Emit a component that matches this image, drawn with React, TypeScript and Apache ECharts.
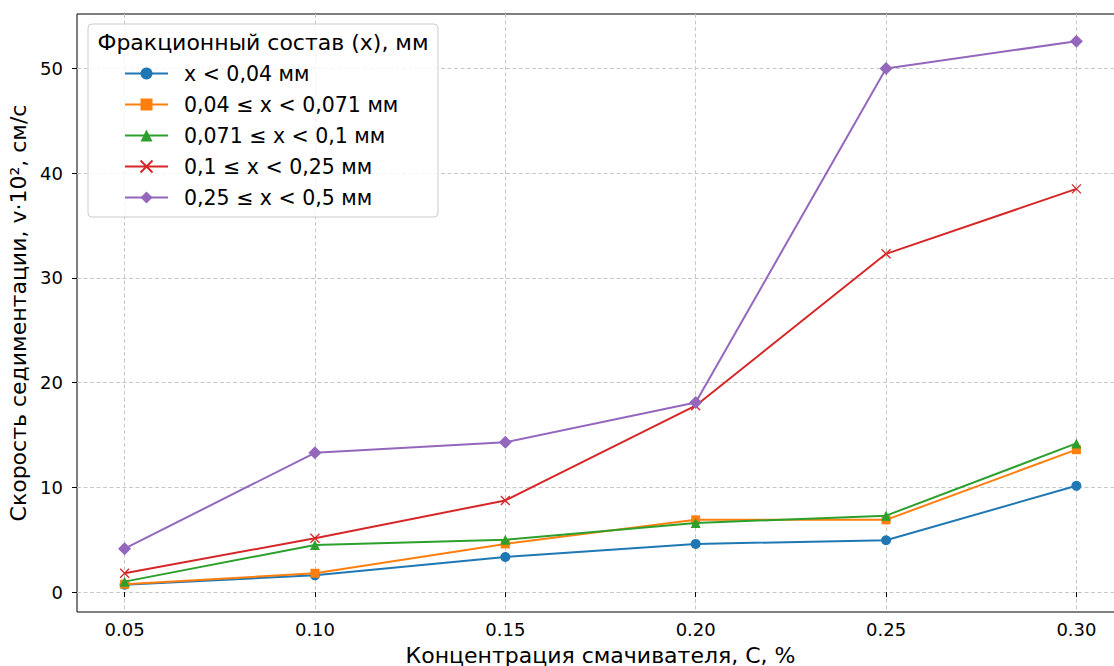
import React, { useEffect, useRef } from "react";
import * as echarts from "echarts";

const concentrations = [0.05, 0.1, 0.15, 0.2, 0.25, 0.3];
const xTicks = [0.05, 0.1, 0.15, 0.2, 0.25, 0.3];
const yTicks = [0, 10, 20, 30, 40, 50];

const seriesNames = [
  "x < 0,04 мм",
  "0,04 ≤ x < 0,071 мм",
  "0,071 ≤ x < 0,1 мм",
  "0,1 ≤ x < 0,25 мм",
  "0,25 ≤ x < 0,5 мм",
];
const fraction1 = [0.7, 1.6, 3.35, 4.6, 4.95, 10.15];
const fraction2 = [0.75, 1.8, 4.6, 6.9, 6.9, 13.6];
const fraction3 = [1.0, 4.5, 5.0, 6.6, 7.3, 14.2];
const fraction4 = [1.8, 5.15, 8.75, 17.8, 32.3, 38.5];
const fraction5 = [4.15, 13.3, 14.3, 18.1, 50.0, 52.6];

const colors = ["#1f77b4", "#ff7f0e", "#2ca02c", "#d62728", "#9467bd"];
const FONT = "DejaVu Sans";

export default function App() {
  const ref = useRef<HTMLDivElement>(null);
  useEffect(() => {
    if (!ref.current) return;
    const chart = echarts.init(ref.current, null, { renderer: "svg" });
    const allData = [fraction1, fraction2, fraction3, fraction4, fraction5];
    const symbols = [
      "circle",
      "rect",
      "triangle",
      "path://M0,0L10,10M10,0L0,10",
      "diamond",
    ];
    const sizes = [10, 9, 10, 9, 13];
    const series = allData.map((d, i) => ({
      name: seriesNames[i],
      type: "line",
      data: d.map((v, j) => [concentrations[j], v]),
      symbol: symbols[i],
      symbolSize: sizes[i],
      showSymbol: true,
      lineStyle: { color: colors[i], width: 2 },
      itemStyle:
        i === 3
          ? { color: colors[i], borderColor: colors[i], borderWidth: 1.3 }
          : { color: colors[i], borderWidth: 0 },
      z: 2 + i * 0.01,
    }));
    chart.setOption({
      animation: false,
      backgroundColor: "#ffffff",
      textStyle: { fontFamily: FONT },
      grid: {
        left: 77,
        top: 14,
        width: 1047,
        height: 598,
        outerBoundsMode: "none",
        containLabel: false,
        show: true,
        borderColor: "#000000",
        borderWidth: 1,
        backgroundColor: "transparent",
      },
      xAxis: {
        type: "value",
        min: 0.0375,
        max: 0.3125,
        name: "Концентрация смачивателя, С, %",
        nameLocation: "middle",
        nameGap: 32,
        nameTextStyle: { fontSize: 22, color: "#000", fontFamily: FONT },
        axisLine: { show: false },
        axisTick: {
          show: true,
          length: 5,
          lineStyle: { color: "#000" },
          customValues: xTicks,
        },
        axisLabel: {
          customValues: xTicks,
          fontSize: 18,
          color: "#000",
          margin: 8,
          fontFamily: FONT,
          formatter: (v: number) => v.toFixed(2),
        },
        splitLine: {
          show: true,
          lineStyle: { color: "#c8c8c8", type: [4, 2.5], width: 1 },
        },
      },
      yAxis: {
        type: "value",
        min: -1.9,
        max: 55.2,
        name: "Скорость седиментации, v·10², см/с",
        nameLocation: "middle",
        nameGap: 37,
        nameRotate: 90,
        nameTextStyle: { fontSize: 22, color: "#000", fontFamily: FONT },
        axisLine: { show: false },
        axisTick: {
          show: true,
          length: 5,
          lineStyle: { color: "#000" },
          customValues: yTicks,
        },
        axisLabel: {
          customValues: yTicks,
          fontSize: 18,
          color: "#000",
          margin: 14,
          fontFamily: FONT,
        },
        splitLine: {
          show: true,
          lineStyle: { color: "#c8c8c8", type: [4, 2.5], width: 1 },
        },
      },
      legend: {
        orient: "vertical",
        left: 124,
        top: 63,
        padding: 0,
        itemWidth: 43,
        itemHeight: 15,
        itemGap: 10,
        z: 10,
        textStyle: {
          fontSize: 20.5,
          color: "#000",
          fontFamily: FONT,
          padding: [0, 0, 0, 11],
        },
        data: seriesNames,
      },
      graphic: [
        {
          type: "rect",
          z: 8,
          shape: { x: 88, y: 24, width: 350, height: 193, r: 4 },
          style: { fill: "rgba(255,255,255,0.8)", stroke: "#cccccc", lineWidth: 1 },
        },
        {
          type: "text",
          z: 9,
          x: 263,
          y: 42,
          style: {
            text: "Фракционный состав (х), мм",
            fontSize: 22,
            fontFamily: FONT,
            fill: "#000",
            align: "center",
            verticalAlign: "middle",
          },
        },
      ],
      series,
    });
    return () => chart.dispose();
  }, []);
  return (
    <div
      ref={ref}
      style={{ position: "fixed", left: 0, top: 0, width: 1114, height: 666 }}
    />
  );
}
